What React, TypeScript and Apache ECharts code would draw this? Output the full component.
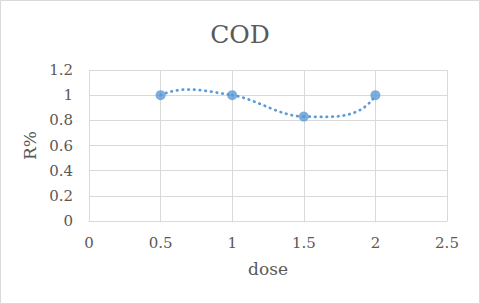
import React, { useEffect, useRef } from "react";
import * as echarts from "echarts";

const doses = [0.5, 1, 1.5, 2];
const rValues = [1, 1, 0.83, 1];
const titleText = "COD";
const xName = "dose";
const yName = "R%";

const FONT = "DejaVu Serif";
const TEXT = "#595959";
const GRID = "#d9d9d9";
const BLUE = "#5b9bd5";
const F = 1 / 6; // interior tangent factor
const END_PERP = 3; // end-segment bulge amplification

export default function App() {
  const ref = useRef<HTMLDivElement>(null);
  useEffect(() => {
    document.body.style.margin = "0";
    const chart = echarts.init(ref.current!, null, { renderer: "svg" });
    const pts = doses.map((d, i) => [d, rValues[i]]);

    const renderItem = (params: any, api: any) => {
      const i = params.dataIndex;
      const n = pts.length;
      if (i >= n - 1) return { type: "group", children: [] };
      const P = pts.map((p) => api.coord(p));
      const outOff: number[][] = [];
      const inOff: number[][] = [];
      for (let k = 1; k < n - 1; k++) {
        const o = [(P[k + 1][0] - P[k - 1][0]) * F, (P[k + 1][1] - P[k - 1][1]) * F];
        outOff[k] = o;
        inOff[k] = [-o[0], -o[1]];
      }
      const mirrorAmp = (off: number[], from: number[], to: number[]) => {
        const cx = to[0] - from[0], cy = to[1] - from[1];
        const L = Math.hypot(cx, cy) || 1;
        const ux = cx / L, uy = cy / L;
        const along = off[0] * ux + off[1] * uy;
        const px = off[0] - along * ux, py = off[1] - along * uy;
        return [-along * ux + END_PERP * px, -along * uy + END_PERP * py];
      };
      if (n > 2) {
        outOff[0] = mirrorAmp(inOff[1], P[1], P[0]);
        inOff[n - 1] = mirrorAmp(outOff[n - 2], P[n - 2], P[n - 1]);
      } else {
        outOff[0] = [(P[1][0] - P[0][0]) / 3, (P[1][1] - P[0][1]) / 3];
        inOff[1] = [-outOff[0][0], -outOff[0][1]];
      }
      const a = P[i], b = P[i + 1];
      const c1 = [a[0] + outOff[i][0], a[1] + outOff[i][1]];
      const c2 = [b[0] + inOff[i + 1][0], b[1] + inOff[i + 1][1]];
      return {
        type: "bezierCurve",
        shape: { x1: a[0], y1: a[1], x2: b[0], y2: b[1], cpx1: c1[0], cpy1: c1[1], cpx2: c2[0], cpy2: c2[1] },
        style: { fill: null, stroke: BLUE, lineWidth: 2.75, lineDash: [0.5, 5.2], lineCap: "round" },
        silent: true,
      };
    };

    chart.setOption({
      animation: false,
      backgroundColor: "#ffffff",
      textStyle: { fontFamily: FONT },
      title: {
        text: titleText,
        left: "center",
        top: 17,
        textStyle: { fontFamily: FONT, fontSize: 25, fontWeight: "normal", color: TEXT },
      },
      grid: { left: 89, right: 33, top: 70, bottom: 83 },
      xAxis: {
        type: "value",
        min: 0,
        max: 2.5,
        interval: 0.5,
        name: xName,
        nameLocation: "middle",
        nameGap: 39,
        nameTextStyle: { fontFamily: FONT, fontSize: 17, color: TEXT },
        axisLine: { show: true, lineStyle: { color: GRID, width: 1 } },
        axisTick: { show: false },
        axisLabel: { fontFamily: FONT, fontSize: 15, color: TEXT, margin: 14 },
        splitLine: { show: true, lineStyle: { color: GRID, width: 1 } },
      },
      yAxis: {
        type: "value",
        min: 0,
        max: 1.2,
        interval: 0.2,
        name: yName,
        nameLocation: "middle",
        nameGap: 42,
        nameTextStyle: { fontFamily: FONT, fontSize: 17, color: TEXT },
        axisLine: { show: false },
        axisTick: { show: false },
        axisLabel: {
          fontFamily: FONT,
          fontSize: 15,
          color: TEXT,
          margin: 16,
          formatter: (v: number) => String(Math.round(v * 10) / 10),
        },
        splitLine: { show: true, lineStyle: { color: GRID, width: 1 } },
      },
      graphic: [
        {
          type: "rect",
          shape: { x: 0.5, y: 0.5, width: 479, height: 303 },
          style: { fill: "none", stroke: GRID, lineWidth: 1 },
          silent: true,
        },
      ],
      series: [
        {
          type: "custom",
          renderItem,
          data: pts,
          clip: false,
          z: 2,
        },
        {
          type: "scatter",
          data: pts,
          symbol: "circle",
          symbolSize: 10,
          itemStyle: { color: BLUE },
          z: 3,
        },
      ],
    });
    return () => chart.dispose();
  }, []);
  return <div ref={ref} style={{ width: 480, height: 304 }} />;
}
